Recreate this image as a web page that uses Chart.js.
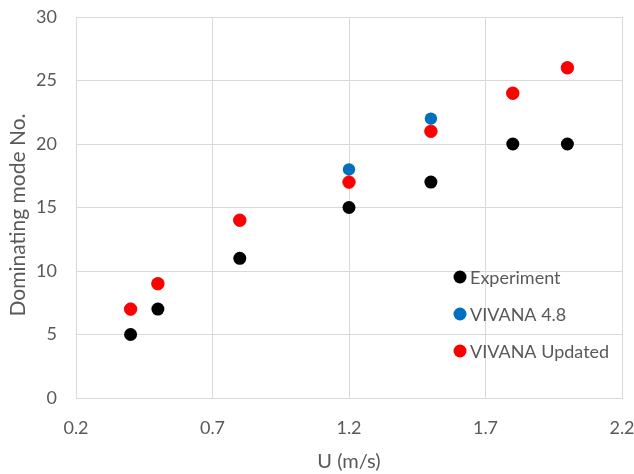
<!DOCTYPE html>
<html>
<head>
<meta charset="utf-8">
<script src="https://cdn.jsdelivr.net/npm/chart.js@4"></script>
<style>
html,body{margin:0;padding:0;background:#fff;}
#wrap{width:634px;height:474px;}
</style>
</head>
<body>
<div id="wrap"><canvas id="c" width="634" height="474"></canvas></div>
<script>
const seriesNames = ["Experiment", "VIVANA 4.8", "VIVANA Updated"];
const uExperiment = [0.4, 0.5, 0.8, 1.2, 1.5, 1.8, 2.0];
const modeExperiment = [5, 7, 11, 15, 17, 20, 20];
const uVivana48 = [0.4, 0.5, 0.8, 1.2, 1.5, 1.8, 2.0];
const modeVivana48 = [7, 9, 14, 18, 22, 24, 26];
const uVivanaUpd = [0.4, 0.5, 0.8, 1.2, 1.5, 1.8, 2.0];
const modeVivanaUpd = [7, 9, 14, 17, 21, 24, 26];
const colors = ["#000000", "#0070C0", "#FF0000"];
const xTicks = [0.2, 0.7, 1.2, 1.7, 2.2];
const xTitle = "U (m/s)";
const yTitle = "Dominating mode No.";

const FONT = "Lato, 'Open Sans', sans-serif";
const toPts = (xs, ys) => xs.map((x, i) => ({x: x, y: ys[i]}));

const legendPlugin = {
  id: 'insideLegend',
  afterDraw(chart) {
    const ctx = chart.ctx;
    const ds = chart.data.datasets;
    const x0 = 460, ys = [277, 314, 351];
    ctx.save();
    ctx.font = "18px " + FONT;
    ctx.textBaseline = 'middle';
    ctx.textAlign = 'left';
    [0, 1, 2].forEach((idx, k) => {
      const d = ds[idx];
      ctx.beginPath();
      ctx.fillStyle = d.backgroundColor;
      ctx.arc(x0, ys[k], 6.5, 0, Math.PI * 2);
      ctx.fill();
      ctx.fillStyle = '#595959';
      ctx.fillText(d.label, x0 + 10, ys[k] + 1);
    });
    // y axis title
    ctx.translate(18, 215);
    ctx.rotate(-Math.PI / 2);
    ctx.font = "21px " + FONT;
    ctx.textAlign = 'center';
    ctx.fillText(yTitle, 0, 0);
    ctx.restore();
  }
};

new Chart(document.getElementById('c'), {
  type: 'scatter',
  data: {
    datasets: [
      {label: seriesNames[0], data: toPts(uExperiment, modeExperiment), backgroundColor: colors[0], borderColor: colors[0], pointRadius: 6.5, pointHoverRadius: 6.5, borderWidth: 0, order: 3},
      {label: seriesNames[1], data: toPts(uVivana48, modeVivana48), backgroundColor: colors[1], borderColor: colors[1], pointRadius: 6.2, pointHoverRadius: 6.2, borderWidth: 0, order: 2},
      {label: seriesNames[2], data: toPts(uVivanaUpd, modeVivanaUpd), backgroundColor: colors[2], borderColor: colors[2], pointRadius: 6.3, pointHoverRadius: 6.3, borderWidth: 0.8, order: 1}
    ]
  },
  options: {
    responsive: false,
    animation: false,
    events: [],
    layout: {padding: {left: 0, right: 12, top: 17, bottom: 0}},
    plugins: {legend: {display: false}, tooltip: {enabled: false}},
    scales: {
      x: {
        type: 'linear', min: 0.2, max: 2.2,
        afterBuildTicks(s) { s.ticks = xTicks.map(v => ({value: v})); },
        afterFit(s) { s.height = 76; s.paddingLeft = 0; s.paddingRight = 0; },
        grid: {color: '#d9d9d9', lineWidth: 1, drawTicks: false},
        border: {color: '#d9d9d9'},
        ticks: {color: '#595959', font: {family: FONT, size: 18}, padding: 19, maxRotation: 0,
          callback: v => Number(v).toFixed(1)},
        title: {display: true, text: xTitle, color: '#595959', font: {family: FONT, size: 20}, padding: {top: 0, bottom: 0}}
      },
      y: {
        type: 'linear', min: 0, max: 30,
        ticks: {stepSize: 5, color: '#595959', font: {family: FONT, size: 18}, padding: 19},
        afterFit(s) { s.width = 76; s.paddingTop = 0; s.paddingBottom = 0; },
        grid: {color: '#d9d9d9', lineWidth: 1, drawTicks: false},
        border: {color: '#d9d9d9'},
        title: {display: false}
      }
    }
  },
  plugins: [legendPlugin]
});
</script>
</body>
</html>
